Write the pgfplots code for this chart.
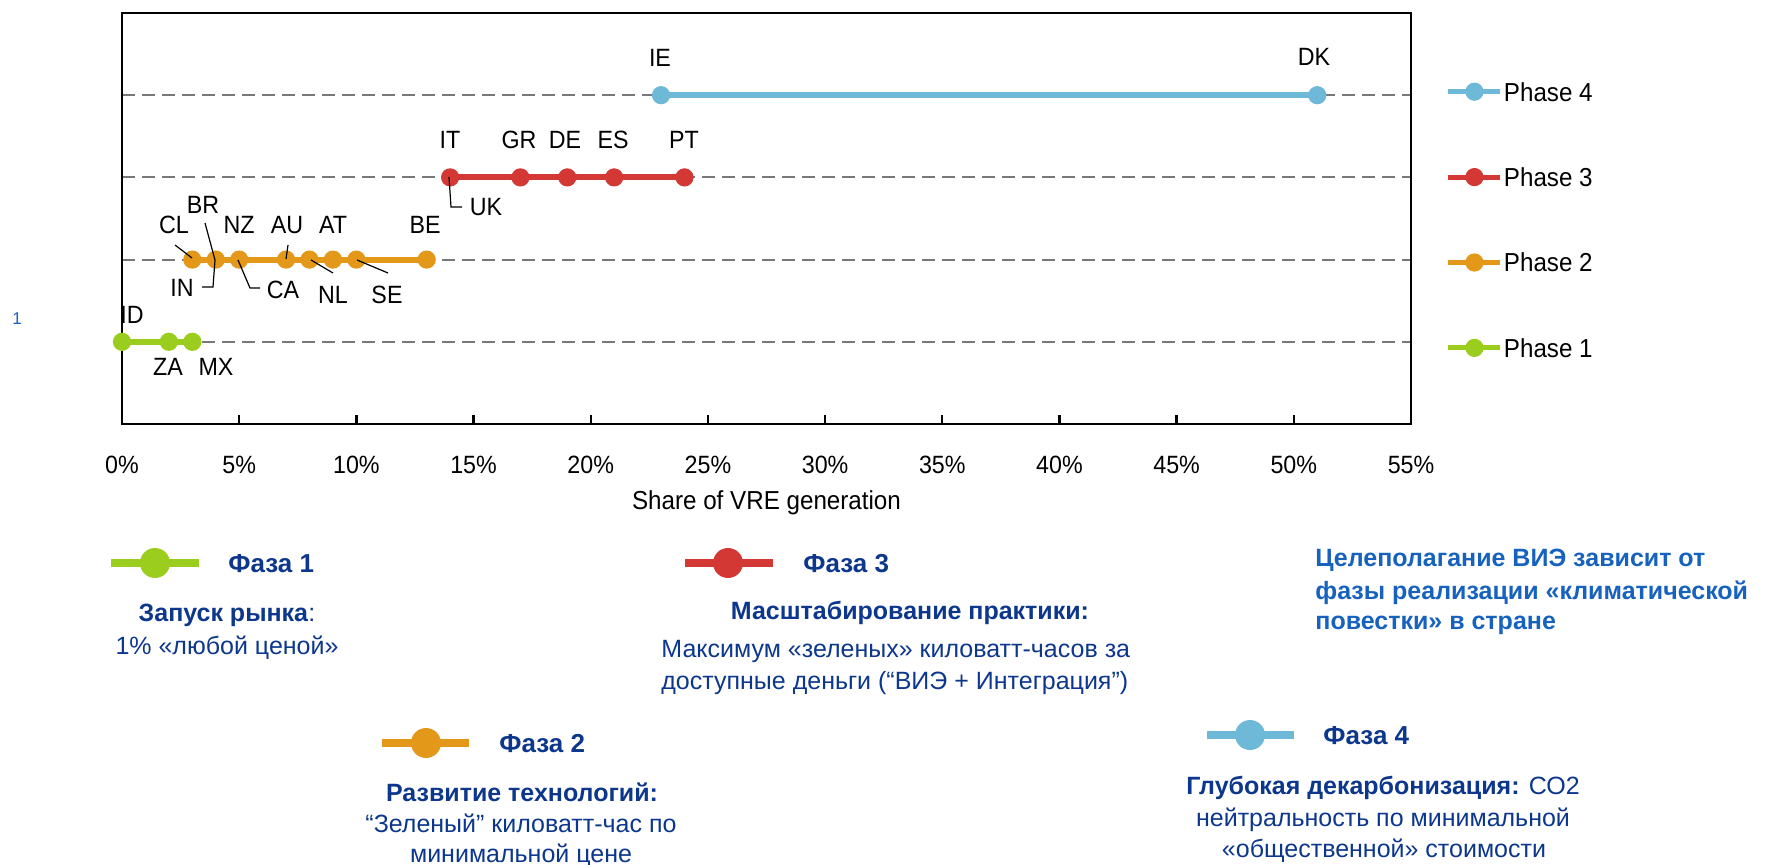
\documentclass[border=0pt]{standalone}
\usepackage{fontspec}
\setmainfont{Liberation Sans}
\newfontfamily\chartfont[FakeStretch=0.93]{Liberation Sans}
\usepackage{pgfplots}
\pgfplotsset{compat=1.18}
\definecolor{pOne}{RGB}{155,205,30}
\definecolor{pTwo}{RGB}{227,152,25}
\definecolor{pThree}{RGB}{212,56,52}
\definecolor{pFour}{RGB}{110,185,215}
\definecolor{navy}{RGB}{12,55,140}
\definecolor{brightblue}{RGB}{22,98,190}
\definecolor{gridgray}{RGB}{120,120,120}
\begin{document}
\begin{tikzpicture}[
  lbl/.style={font=\chartfont\fontsize{12.5}{14}\selectfont, inner sep=0pt, text height=9pt, text depth=0pt, anchor=center},
  bt/.style={font=\fontsize{12.5}{16}\selectfont, text=navy, inner sep=0pt, text height=9pt, text depth=0pt},
  btb/.style={font=\bfseries\fontsize{12.5}{16}\selectfont, text=navy, inner sep=0pt, text height=9pt, text depth=0pt},
  lead/.style={black, line width=0.6pt}]
\begin{axis}[
  at={(61pt,-212pt)}, anchor=south west,
  scale only axis, width=644.5pt, height=205.5pt,
  xmin=0, xmax=55, ymin=0, ymax=5,
  clip=false,
  axis line style={black, line width=1.3pt},
  xtick={0,5,...,55},
  xticklabel={\pgfmathprintnumber{\tick}\%},
  xtick pos=bottom,
  tick align=inside,
  major tick length=4.5pt,
  xtick style={black, line width=1.2pt},
  ytick={1,2,3,4}, yticklabels={}, ytick style={draw=none},
  ymajorgrids, grid style={gridgray, line width=1pt, dash pattern=on 6.3pt off 3.7pt},
  xticklabel style={font=\chartfont\fontsize{12.5}{14}\selectfont, anchor=north, inner sep=0pt, yshift=-15.5pt, text height=9pt, text depth=0pt},
  /pgf/number format/assume math mode=true,
  xlabel={Share of VRE generation},
  xlabel style={font=\chartfont\fontsize{13}{15}\selectfont, at={(axis description cs:0.5,0)}, anchor=center, yshift=-38pt, inner sep=0pt, text height=9pt, text depth=0pt},
  reverse legend,
  legend cell align=left,
  legend style={draw=none, fill=none, inner sep=0pt, outer sep=0pt,
    at={(axis description cs:1.0271,0.8314)}, anchor=north west,
    row sep=33.3pt,
    nodes={inner sep=0pt, text height=9.4pt, text depth=0pt},
    font=\chartfont\fontsize{13}{15}\selectfont,
    /tikz/every odd column/.style={column sep=0.5pt}},
  legend image code/.code={\draw[mark repeat=2,mark phase=2,#1,line width=2.5pt] plot coordinates {(0pt,0pt)(13pt,0pt)(26pt,0pt)};},
]
\addplot[pOne, line width=3pt, mark=*, mark size=4.3pt, mark options={solid, line width=0.5pt}] coordinates {(0,1)(2,1)(3,1)};
\addlegendentry{Phase 1}
\addplot[pTwo, line width=3pt, mark=*, mark size=4.3pt, mark options={solid, line width=0.5pt}] coordinates {(3,2)(4,2)(5,2)(7,2)(8,2)(9,2)(10,2)(13,2)};
\addlegendentry{Phase 2}
\addplot[pThree, line width=3pt, mark=*, mark size=4.3pt, mark options={solid, line width=0.5pt}] coordinates {(14,3)(17,3)(19,3)(21,3)(24,3)};
\addlegendentry{Phase 3}
\addplot[pFour, line width=3pt, mark=*, mark size=4.3pt, mark options={solid, line width=0.5pt}] coordinates {(23,4)(51,4)};
\addlegendentry{Phase 4}
\end{axis}
\begin{scope}[x=0.5pt,y=-0.5pt]
\path[use as bounding box] (0,0) rectangle (1780,865);
% country labels
\node[lbl] at (660,58) {IE};
\node[lbl] at (1314,57) {DK};
\node[lbl] at (450,140) {IT};
\node[lbl] at (519,140) {GR};
\node[lbl] at (565,140) {DE};
\node[lbl] at (613,140) {ES};
\node[lbl] at (684,140) {PT};
\node[lbl] at (486,207) {UK};
\draw[lead] (449,177) -- (451,207) -- (462,207);
\node[lbl] at (174,225) {CL};
\node[lbl] at (203,205) {BR};
\node[lbl] at (239,225) {NZ};
\node[lbl] at (287,225) {AU};
\node[lbl] at (333,225) {AT};
\node[lbl] at (425,225) {BE};
\node[lbl] at (182,288) {IN};
\node[lbl] at (283,290) {CA};
\node[lbl] at (333,295) {NL};
\node[lbl] at (387,295) {SE};
\draw[lead] (175,245) -- (192,258);
\draw[lead] (205,223) -- (215,260) -- (213,287) -- (202,287);
\draw[lead] (288,245) -- (286,259);
\draw[lead] (238,260) -- (250,288) -- (260,288);
\draw[lead] (311,260) -- (333,273);
\draw[lead] (357,260) -- (388,273);
\node[lbl] at (132,315) {ID};
\node[lbl] at (168,367) {ZA};
\node[lbl] at (216,367) {MX};
% stray label
\node[font=\fontsize{8.5}{10}\selectfont, text=brightblue, inner sep=0pt] at (17,319) {1};
% bottom explanation: phase 1
\draw[pOne, line width=4pt] (111,563) -- (199,563);
\fill[pOne] (155,563) circle (7.5pt);
\node[btb, anchor=west, font=\bfseries\fontsize{13}{16}\selectfont] at (228,563) {Фаза 1};
\node[bt] at (227,612) {\textbf{Запуск рынка}:};
\node[bt] at (227,645) {1\% «любой ценой»};
% phase 2
\draw[pTwo, line width=4pt] (382,743) -- (469,743);
\fill[pTwo] (426,743) circle (7.5pt);
\node[btb, anchor=west, font=\bfseries\fontsize{13}{16}\selectfont] at (499,743) {Фаза 2};
\node[btb] at (522,792) {Развитие технологий:};
\node[bt] at (521,823) {“Зеленый” киловатт-час по};
\node[bt] at (521,853) {минимальной цене};
% phase 3
\draw[pThree, line width=4pt] (685,563) -- (773,563);
\fill[pThree] (728,563) circle (7.5pt);
\node[btb, anchor=west, font=\bfseries\fontsize{13}{16}\selectfont] at (803,563) {Фаза 3};
\node[btb] at (910,610) {Масштабирование практики:};
\node[bt, anchor=west] at (661,648) {Максимум «зеленых» киловатт-часов за};
\node[bt, anchor=west] at (661,680) {доступные деньги (“ВИЭ + Интеграция”)};
% phase 4
\draw[pFour, line width=4pt] (1207,735) -- (1294,735);
\fill[pFour] (1250,735) circle (7.5pt);
\node[btb, anchor=west, font=\bfseries\fontsize{13}{16}\selectfont] at (1323,735) {Фаза 4};
\node[bt] at (1383,785) {\textbf{Глубокая декарбонизация:} СО2};
\node[bt] at (1383,817) {нейтральность по минимальной};
\node[bt] at (1384,848) {«общественной» стоимости};
% headline
\node[btb, text=brightblue, anchor=west] at (1315,557) {Целеполагание ВИЭ зависит от};
\node[btb, text=brightblue, anchor=west] at (1315,590) {фазы реализации «климатической};
\node[btb, text=brightblue, anchor=west] at (1315,620) {повестки» в стране};
\end{scope}
\end{tikzpicture}
\end{document}
